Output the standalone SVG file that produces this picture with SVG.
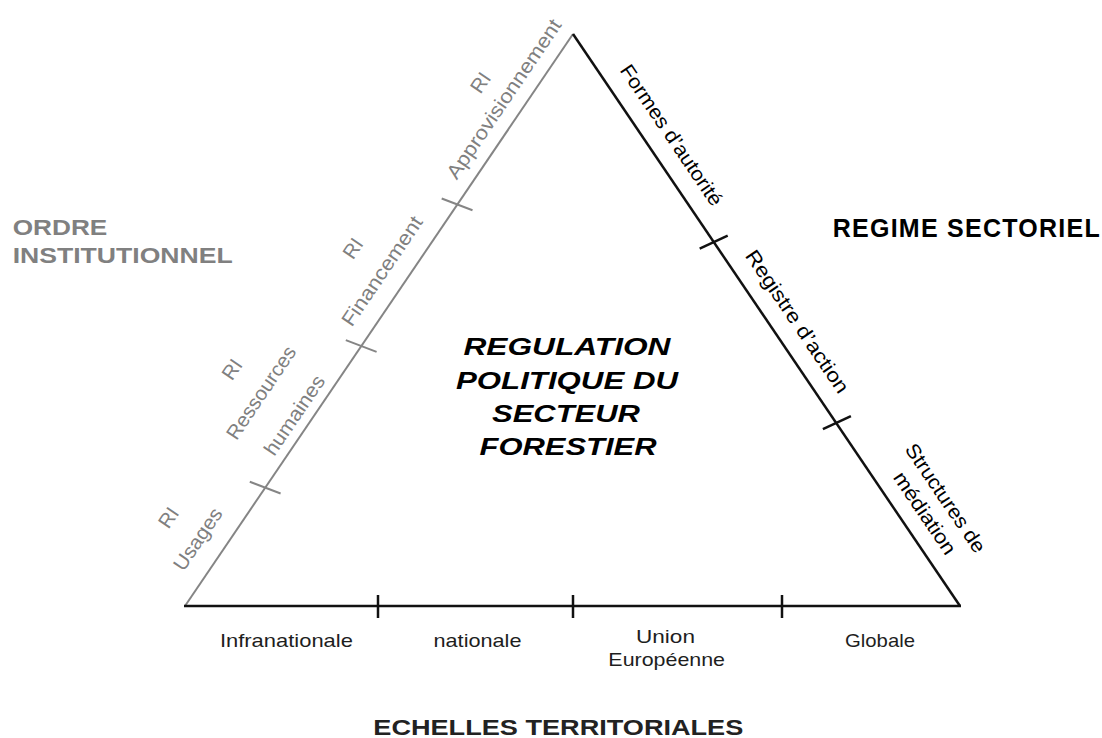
<svg xmlns="http://www.w3.org/2000/svg" width="1102" height="738" viewBox="0 0 1102 738">
<style>
text{font-family:"Liberation Sans",Arial,sans-serif}
.title{font-weight:bold}
.gray{fill:#808080}
.side{font-size:20px;text-anchor:middle}
.bot{font-size:19px;fill:#1e1e1e;text-anchor:middle}
.center{font-size:24px;font-weight:bold;font-style:italic;text-anchor:middle;fill:#000}
.gl{stroke:#858585;stroke-width:2;fill:none}
.bl{stroke:#111;stroke-width:2.5;fill:none}
</style>
<rect width="1102" height="738" fill="#fff"/>
<g id="connectors">
<line class="gl" x1="185" y1="606" x2="573" y2="34"/>
<line class="bl" x1="573" y1="34" x2="960" y2="606"/>
<line class="bl" x1="184" y1="606" x2="961" y2="606"/>
<line class="gl" x1="249.8" y1="481.7" x2="280.6" y2="493.5"/>
<line class="gl" x1="345.8" y1="340.1" x2="376.6" y2="351.9"/>
<line class="gl" x1="441.7" y1="198.5" x2="472.5" y2="210.3"/>
<line class="bl" x1="699.7" y1="248.6" x2="727.7" y2="235.6"/>
<line class="bl" x1="822.9" y1="429.2" x2="850.9" y2="416.2"/>
<line class="bl" x1="378" y1="595" x2="378" y2="618"/>
<line class="bl" x1="573" y1="595" x2="573" y2="618"/>
<line class="bl" x1="782" y1="595" x2="782" y2="618"/>
</g>
<g id="ordre-institutionnel">
<text class="title gray" font-size="22" x="12.7" y="235" textLength="94.6" lengthAdjust="spacingAndGlyphs">ORDRE</text>
<text class="title gray" font-size="22" x="12.7" y="263" textLength="220" lengthAdjust="spacingAndGlyphs">INSTITUTIONNEL</text>
</g>
<g id="regime-sectoriel">
<text class="title" font-size="25" fill="#000" x="832.7" y="236.7" textLength="267" lengthAdjust="spacing">REGIME SECTORIEL</text>
</g>
<g id="echelles-territoriales">
<text class="title" font-size="22" fill="#222" x="373.3" y="734.5" textLength="370" lengthAdjust="spacingAndGlyphs">ECHELLES TERRITORIALES</text>
</g>
<g id="regulation">
<text class="center" x="567" y="355" textLength="207" lengthAdjust="spacingAndGlyphs">REGULATION</text>
<text class="center" x="567" y="389" textLength="222" lengthAdjust="spacingAndGlyphs">POLITIQUE DU</text>
<text class="center" x="566" y="422" textLength="148" lengthAdjust="spacingAndGlyphs">SECTEUR</text>
<text class="center" x="568" y="455" textLength="177" lengthAdjust="spacingAndGlyphs">FORESTIER</text>
</g>
<g id="left-labels" transform="translate(185,606) rotate(-55.85)">
<g id="ri-usages"><text class="side gray" x="63.9" y="-63.4" dy="0.35em">RI</text><text class="side gray" x="62.5" y="-27.2" dy="0.35em" textLength="71" lengthAdjust="spacingAndGlyphs">Usages</text></g>
<g id="ri-ressources"><text class="side gray" x="222.3" y="-94.1" dy="0.35em">RI</text><text class="side gray" x="219.3" y="-57" dy="0.35em" textLength="108" lengthAdjust="spacingAndGlyphs">Ressources</text><text class="side gray" x="219.4" y="-16.8" dy="0.35em" textLength="92" lengthAdjust="spacingAndGlyphs">humaines</text></g>
<g id="ri-financement"><text class="side gray" x="390.2" y="-62" dy="0.35em">RI</text><text class="side gray" x="387.8" y="-25.2" dy="0.35em" textLength="128" lengthAdjust="spacingAndGlyphs">Financement</text></g>
<g id="ri-approvisionnement"><text class="side gray" x="599" y="-49.4" dy="0.35em">RI</text><text class="side gray" x="598.6" y="-20.9" dy="0.35em" textLength="188" lengthAdjust="spacingAndGlyphs">Approvisionnement</text></g>
</g>
<g id="right-labels" transform="translate(573,34) rotate(55.92)">
<g id="formes"><text class="side" fill="#000" x="138.9" y="-25.1" dy="0.35em" textLength="166" lengthAdjust="spacingAndGlyphs">Formes d’autorité</text></g>
<g id="registre"><text class="side" fill="#000" x="363.9" y="-24.8" dy="0.35em" textLength="168" lengthAdjust="spacingAndGlyphs">Registre d’action</text></g>
<g id="structures"><text class="side" fill="#000" x="593.2" y="-48.7" dy="0.35em" textLength="127" lengthAdjust="spacingAndGlyphs">Structures de</text><text class="side" fill="#000" x="594" y="-23.1" dy="0.35em" textLength="95" lengthAdjust="spacingAndGlyphs">médiation</text></g>
</g>
<g id="bottom-labels">
<g id="infranationale"><text class="bot" x="286.4" y="646.7" textLength="133" lengthAdjust="spacingAndGlyphs">Infranationale</text></g>
<g id="nationale"><text class="bot" x="477.5" y="646.7" textLength="88" lengthAdjust="spacingAndGlyphs">nationale</text></g>
<g id="union"><text class="bot" x="665.5" y="642.7" textLength="59" lengthAdjust="spacingAndGlyphs">Union</text><text class="bot" x="666.7" y="665.7" textLength="116.7" lengthAdjust="spacingAndGlyphs">Européenne</text></g>
<g id="globale"><text class="bot" x="880" y="646.7" textLength="70" lengthAdjust="spacingAndGlyphs">Globale</text></g>
</g>
</svg>
